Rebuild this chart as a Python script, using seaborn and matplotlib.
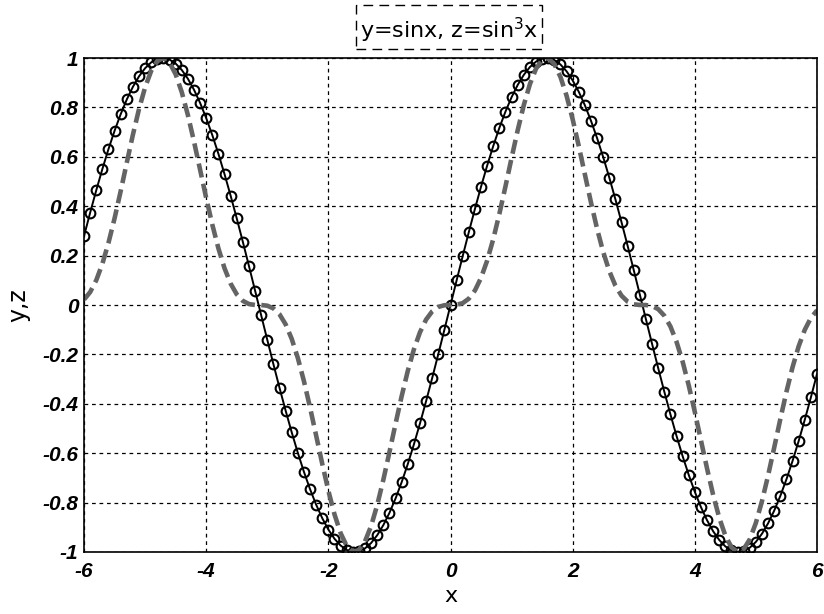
import matplotlib
matplotlib.use("Agg")
import matplotlib.pyplot as plt
from matplotlib.patches import Rectangle
import seaborn as sns
import pandas as pd

# Sample points, x from -6 to 6 in steps of 0.1
x_vals = [
    -6.0, -5.9, -5.8, -5.7, -5.6, -5.5, -5.4, -5.3, -5.2, -5.1,
    -5.0, -4.9, -4.8, -4.7, -4.6, -4.5, -4.4, -4.3, -4.2, -4.1,
    -4.0, -3.9, -3.8, -3.7, -3.6, -3.5, -3.4, -3.3, -3.2, -3.1,
    -3.0, -2.9, -2.8, -2.7, -2.6, -2.5, -2.4, -2.3, -2.2, -2.1,
    -2.0, -1.9, -1.8, -1.7, -1.6, -1.5, -1.4, -1.3, -1.2, -1.1,
    -1.0, -0.9, -0.8, -0.7, -0.6, -0.5, -0.4, -0.3, -0.2, -0.1,
    0.0,
    0.1, 0.2, 0.3, 0.4, 0.5, 0.6, 0.7, 0.8, 0.9, 1.0,
    1.1, 1.2, 1.3, 1.4, 1.5, 1.6, 1.7, 1.8, 1.9, 2.0,
    2.1, 2.2, 2.3, 2.4, 2.5, 2.6, 2.7, 2.8, 2.9, 3.0,
    3.1, 3.2, 3.3, 3.4, 3.5, 3.6, 3.7, 3.8, 3.9, 4.0,
    4.1, 4.2, 4.3, 4.4, 4.5, 4.6, 4.7, 4.8, 4.9, 5.0,
    5.1, 5.2, 5.3, 5.4, 5.5, 5.6, 5.7, 5.8, 5.9, 6.0,
]

# y = sin x
y_vals = [
    0.2794, 0.3739, 0.4646, 0.5507, 0.6313, 0.7055, 0.7728, 0.8323, 0.8835, 0.9258,
    0.9589, 0.9825, 0.9962, 0.9999, 0.9937, 0.9775, 0.9516, 0.9162, 0.8716, 0.8183,
    0.7568, 0.6878, 0.6119, 0.5298, 0.4425, 0.3508, 0.2555, 0.1577, 0.0584, -0.0416,
    -0.1411, -0.2392, -0.3350, -0.4274, -0.5155, -0.5985, -0.6755, -0.7457, -0.8085, -0.8632,
    -0.9093, -0.9463, -0.9738, -0.9917, -0.9996, -0.9975, -0.9854, -0.9636, -0.9320, -0.8912,
    -0.8415, -0.7833, -0.7174, -0.6442, -0.5646, -0.4794, -0.3894, -0.2955, -0.1987, -0.0998,
    0.0,
    0.0998, 0.1987, 0.2955, 0.3894, 0.4794, 0.5646, 0.6442, 0.7174, 0.7833, 0.8415,
    0.8912, 0.9320, 0.9636, 0.9854, 0.9975, 0.9996, 0.9917, 0.9738, 0.9463, 0.9093,
    0.8632, 0.8085, 0.7457, 0.6755, 0.5985, 0.5155, 0.4274, 0.3350, 0.2392, 0.1411,
    0.0416, -0.0584, -0.1577, -0.2555, -0.3508, -0.4425, -0.5298, -0.6119, -0.6878, -0.7568,
    -0.8183, -0.8716, -0.9162, -0.9516, -0.9775, -0.9937, -0.9999, -0.9962, -0.9825, -0.9589,
    -0.9258, -0.8835, -0.8323, -0.7728, -0.7055, -0.6313, -0.5507, -0.4646, -0.3739, -0.2794,
]

# z = sin^3 x
z_vals = [
    0.0218, 0.0523, 0.1003, 0.1670, 0.2516, 0.3512, 0.4615, 0.5766, 0.6896, 0.7935,
    0.8817, 0.9484, 0.9886, 0.9997, 0.9812, 0.9340, 0.8617, 0.7691, 0.6621, 0.5479,
    0.4334, 0.3254, 0.2291, 0.1487, 0.0866, 0.0432, 0.0167, 0.0039, 0.0002, -0.0001,
    -0.0028, -0.0137, -0.0376, -0.0781, -0.1370, -0.2144, -0.3082, -0.4147, -0.5285, -0.6432,
    -0.7518, -0.8474, -0.9234, -0.9753, -0.9988, -0.9925, -0.9568, -0.8947, -0.8096, -0.7078,
    -0.5959, -0.4806, -0.3692, -0.2673, -0.1800, -0.1102, -0.0590, -0.0258, -0.0078, -0.0010,
    0.0,
    0.0010, 0.0078, 0.0258, 0.0590, 0.1102, 0.1800, 0.2673, 0.3692, 0.4806, 0.5959,
    0.7078, 0.8096, 0.8947, 0.9568, 0.9925, 0.9988, 0.9753, 0.9234, 0.8474, 0.7518,
    0.6432, 0.5285, 0.4147, 0.3082, 0.2144, 0.1370, 0.0781, 0.0376, 0.0137, 0.0028,
    0.0001, -0.0002, -0.0039, -0.0167, -0.0432, -0.0866, -0.1487, -0.2291, -0.3254, -0.4334,
    -0.5479, -0.6621, -0.7691, -0.8617, -0.9340, -0.9812, -0.9997, -0.9886, -0.9484, -0.8817,
    -0.7935, -0.6896, -0.5766, -0.4615, -0.3512, -0.2516, -0.1670, -0.1003, -0.0523, -0.0218,
]

x_ticks = [-6, -4, -2, 0, 2, 4, 6]
y_ticks = [-1, -0.8, -0.6, -0.4, -0.2, 0, 0.2, 0.4, 0.6, 0.8, 1]
y_tick_labels = ["-1", "-0.8", "-0.6", "-0.4", "-0.2", "0", "0.2", "0.4", "0.6", "0.8", "1"]

sns.set_style("white")
plt.rcParams["font.family"] = ["DejaVu Sans"]
plt.rcParams["axes.unicode_minus"] = False
plt.rcParams["text.color"] = "black"
plt.rcParams["axes.labelcolor"] = "black"

df = pd.DataFrame({"x": x_vals, "y": y_vals, "z": z_vals})

fig = plt.figure(figsize=(8.24, 6.14), dpi=100)
ax = fig.add_axes([0.102, 0.101, 0.8895, 0.8045])

sns.lineplot(data=df, x="x", y="y", ax=ax, color="black", linewidth=1.4,
             marker="o", markersize=7, markerfacecolor="none",
             markeredgecolor="black", markeredgewidth=1.5, sort=False)
sns.lineplot(data=df, x="x", y="z", ax=ax, color="#646464", linewidth=3.3,
             linestyle=(0, (3.1, 1.4)), sort=False)

ax.set_xlim(-6, 6)
ax.set_ylim(-1, 1)
ax.set_xticks(x_ticks)
ax.set_xticklabels([str(t) for t in x_ticks])
ax.set_yticks(y_ticks)
ax.set_yticklabels(y_tick_labels)
for lab in ax.get_xticklabels() + ax.get_yticklabels():
    lab.set_family(["Liberation Sans", "DejaVu Sans"])
    lab.set_fontweight("bold")
    lab.set_fontstyle("italic")
    lab.set_fontsize(15)
    lab.set_color("black")
ax.tick_params(axis="both", direction="in", length=5, width=1, colors="black")
ax.tick_params(axis="x", pad=7)
ax.tick_params(axis="y", pad=4)

ax.grid(True, color="black", linestyle=(0, (3, 3)), linewidth=0.9)
for sp in ax.spines.values():
    sp.set_color("black")
    sp.set_linewidth(1.2)
    sp.set_visible(True)

ax.set_xlabel("x", fontsize=16, labelpad=4)
ax.set_ylabel("y,z", fontsize=17, labelpad=9)

# Title with a dashed frame around it
fig.text(0.545, 0.938, "y=sinx, z=sin$^3$x", fontsize=16, ha="center",
         va="baseline", color="black")
fig.patches.append(Rectangle((356 / 824, 1 - 49 / 614), 186 / 824, 44 / 614,
                             transform=fig.transFigure, fill=False,
                             edgecolor="black", linewidth=1.0,
                             linestyle=(0, (7, 4.5))))

fig.savefig("out.png", dpi=100)
